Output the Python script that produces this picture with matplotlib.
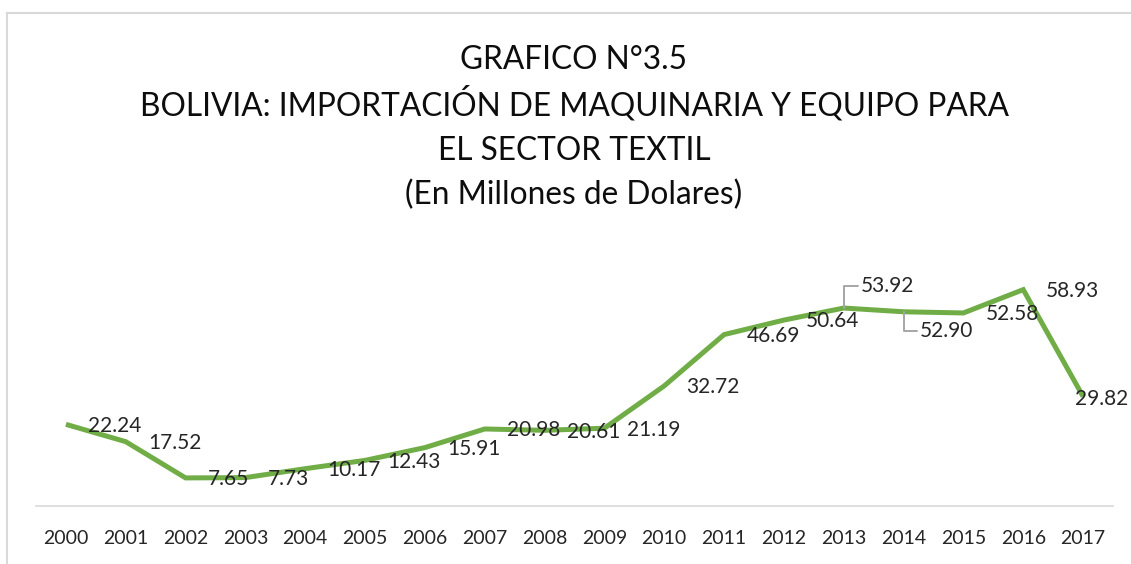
import matplotlib
matplotlib.use('Agg')
import matplotlib.pyplot as plt
from matplotlib.lines import Line2D

years = [str(y) for y in range(2000, 2018)]
valores = [22.24, 17.52, 7.65, 7.73, 10.17, 12.43, 15.91, 20.98, 20.61,
           21.19, 32.72, 46.69, 50.64, 53.92, 52.90, 52.58, 58.93, 29.82]
titulo = ['GRAFICO N°3.5',
          'BOLIVIA: IMPORTACIÓN DE MAQUINARIA Y EQUIPO PARA',
          'EL SECTOR TEXTIL',
          '(En Millones de Dolares)']

plt.rcParams['font.family'] = ['Lato', 'DejaVu Sans']


def main():
    fig = plt.figure(figsize=(11.31, 5.64), dpi=100)
    ax = fig.add_axes([36 / 1131, 1 - 506 / 564, (1113 - 36) / 1131, 257 / 564])

    x = list(range(len(years)))
    ax.plot(x, valores, color='#70AD47', lw=3.6, solid_joinstyle='miter',
            solid_capstyle='butt', clip_on=False)

    # data labels, mostly to the right of the point
    fs = 15
    leader = dict(arrowstyle='-', color='#A6A6A6', lw=1.4, shrinkA=0, shrinkB=0,
                  connectionstyle='angle,angleA=0,angleB=90,rad=0')
    for i, v in enumerate(valores):
        txt = f'{v:.2f}'
        if i == 13:
            ax.annotate(txt, (i, v), xytext=(12, 16), textcoords='offset points',
                        fontsize=fs, va='center', ha='left', color='#262626',
                        arrowprops=leader)
        elif i == 14:
            ax.annotate(txt, (i, v), xytext=(12, -14), textcoords='offset points',
                        fontsize=fs, va='center', ha='left', color='#262626',
                        arrowprops=leader)
        elif i == len(valores) - 1:
            ax.annotate(txt, (i, v), xytext=(-6, -2), textcoords='offset points',
                        fontsize=fs, va='center', ha='left', color='#262626',
                        annotation_clip=False)
        else:
            ax.annotate(txt, (i, v), xytext=(16, -1), textcoords='offset points',
                        fontsize=fs, va='center', ha='left', color='#262626')

    ax.set_xlim(-0.5, len(years) - 0.5)
    ax.set_ylim(0, 70)
    ax.set_xticks(x)
    ax.set_xticklabels(years, fontsize=14, color='#262626')
    ax.set_yticks([])
    ax.tick_params(axis='x', length=0, pad=17)
    for s in ['top', 'right', 'left']:
        ax.spines[s].set_visible(False)
    ax.spines['bottom'].set_color('#D9D9D9')
    ax.spines['bottom'].set_linewidth(1.2)

    ys = [60, 104, 151, 195]
    for t, y in zip(titulo, ys):
        fig.text(574 / 1131, 1 - y / 564, t, ha='center', va='center',
                 fontsize=22.8, color='#0D0D0D')

    # chart area border (only top and left visible)
    fig.add_artist(Line2D([7 / 1131, 1], [1 - 13 / 564] * 2, color='#D9D9D9', lw=1.5))
    fig.add_artist(Line2D([7 / 1131] * 2, [0, 1 - 13 / 564], color='#D9D9D9', lw=1.5))

    fig.savefig('out.png', dpi=100)


if __name__ == '__main__':
    main()
